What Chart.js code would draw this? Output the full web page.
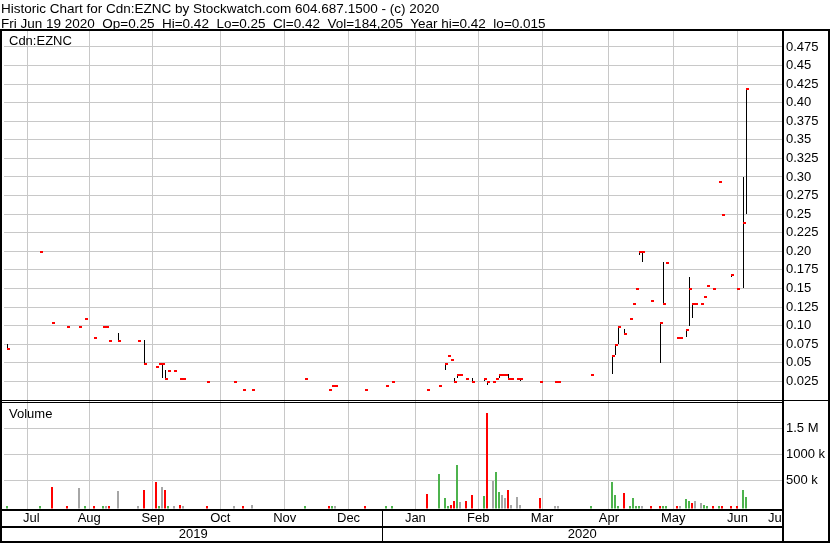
<!DOCTYPE html>
<html>
<head>
<meta charset="utf-8">
<title>Cdn:EZNC historic chart</title>
<script src="https://cdn.jsdelivr.net/npm/chart.js@4.4.1/dist/chart.umd.min.js"></script>
<style>
  html, body { margin: 0; padding: 0; background: #fff; }
  #wrap { position: relative; width: 830px; height: 543px; overflow: hidden; }
  #chart { position: absolute; left: 0; top: 0; }
  .txt { position: absolute; font-family: 'Liberation Sans', Arial, sans-serif; color: #000; white-space: pre; }
  #head { left: 1px; top: 1px; font-size: 13.5px; line-height: 15px; }
  #sym { left: 9px; top: 33px; font-size: 13px; line-height: 15px; }
  #volLabel { left: 9px; top: 406px; font-size: 13px; line-height: 15px; }
</style>
</head>
<body>
<div id="wrap">
  <canvas id="chart" width="830" height="543"></canvas>
  <div class="txt" id="head">Historic Chart for Cdn:EZNC by Stockwatch.com 604.687.1500 - (c) 2020
Fri Jun 19 2020  Op=0.25  Hi=0.42  Lo=0.25  Cl=0.42  Vol=184,205  Year hi=0.42  lo=0.015</div>
  <div class="txt" id="sym">Cdn:EZNC</div>
  <div class="txt" id="volLabel">Volume</div>
</div>
<script>
// day = weekday number counted from Mon 1 Jul 2019 (Fri 19 Jun 2020 = 254)
const days = [6, 17, 21, 26, 30, 32, 35, 38, 39, 40, 43, 50, 52, 56, 57, 58, 59, 60, 62, 64,
    65, 73, 82, 85, 88, 106, 114, 115, 116, 126, 133, 135, 147, 151, 153, 154, 155, 156, 157, 158,
    160, 162, 166, 167, 169, 170, 171, 172, 173, 174, 175, 177, 178, 185, 190, 191, 202, 209, 210, 211,
    213, 215, 216, 217, 218, 219, 222, 225, 226, 227, 231, 232, 234, 235, 236, 237, 239, 240, 241, 243,
    245, 246, 249, 251, 253, 254];
const highs = [0.075, 0.20, 0.105, 0.10, 0.10, 0.11, 0.085, 0.10, 0.10, 0.08, 0.09, 0.08, 0.08, 0.045, 0.05, 0.05, 0.04, 0.04, 0.04, 0.03,
    0.03, 0.025, 0.025, 0.015, 0.015, 0.03, 0.015, 0.02, 0.02, 0.015, 0.02, 0.025, 0.015, 0.02, 0.05, 0.06, 0.055, 0.03, 0.035, 0.035,
    0.03, 0.03, 0.03, 0.025, 0.025, 0.03, 0.035, 0.035, 0.035, 0.035, 0.03, 0.03, 0.03, 0.025, 0.025, 0.025, 0.035, 0.06, 0.075, 0.10,
    0.095, 0.11, 0.13, 0.15, 0.20, 0.20, 0.135, 0.105, 0.185, 0.185, 0.085, 0.085, 0.095, 0.165, 0.13, 0.13, 0.13, 0.14, 0.155, 0.15,
    0.295, 0.25, 0.17, 0.15, 0.30, 0.42];
const lows = [0.07, 0.20, 0.105, 0.10, 0.10, 0.11, 0.085, 0.10, 0.10, 0.08, 0.08, 0.08, 0.05, 0.045, 0.05, 0.03, 0.03, 0.04, 0.04, 0.03,
    0.03, 0.025, 0.025, 0.015, 0.015, 0.03, 0.015, 0.02, 0.02, 0.015, 0.02, 0.025, 0.015, 0.02, 0.04, 0.06, 0.055, 0.025, 0.03, 0.035,
    0.03, 0.025, 0.025, 0.02, 0.025, 0.03, 0.03, 0.035, 0.035, 0.03, 0.03, 0.03, 0.025, 0.025, 0.025, 0.025, 0.035, 0.035, 0.06, 0.075,
    0.09, 0.11, 0.13, 0.15, 0.195, 0.185, 0.135, 0.05, 0.13, 0.185, 0.085, 0.085, 0.085, 0.10, 0.11, 0.13, 0.13, 0.14, 0.155, 0.15,
    0.295, 0.25, 0.165, 0.15, 0.15, 0.25];
const closes = [0.07, 0.20, 0.105, 0.10, 0.10, 0.11, 0.085, 0.10, 0.10, 0.08, 0.08, 0.08, 0.05, 0.045, 0.05, 0.05, 0.03, 0.04, 0.04, 0.03,
    0.03, 0.025, 0.025, 0.015, 0.015, 0.03, 0.015, 0.02, 0.02, 0.015, 0.02, 0.025, 0.015, 0.02, 0.05, 0.06, 0.055, 0.025, 0.035, 0.035,
    0.03, 0.025, 0.03, 0.025, 0.025, 0.03, 0.035, 0.035, 0.035, 0.03, 0.03, 0.03, 0.03, 0.025, 0.025, 0.025, 0.035, 0.06, 0.075, 0.10,
    0.09, 0.11, 0.13, 0.15, 0.20, 0.20, 0.135, 0.105, 0.13, 0.185, 0.085, 0.085, 0.095, 0.15, 0.13, 0.13, 0.13, 0.14, 0.155, 0.15,
    0.295, 0.25, 0.17, 0.15, 0.24, 0.42];
const volumes = [10000, 5000, 371000, 5000, 358000, 12000, 5000, 5000, 5000, 5000, 300000, 5000, 319000, 473000, 5000, 377000, 319000, 5000, 10000, 31000,
    5000, 5000, 12000, 12000, 30000, 5000, 5000, 10000, 10000, 5000, 5000, 5000, 236000, 621000, 160000, 5000, 25000, 102000, 794000, 83000,
    102000, 217000, 198000, 1788000, 493000, 660000, 275000, 217000, 160000, 313000, 20000, 179000, 25000, 160000, 5000, 10000, 5000, 467000, 217000, 10000,
    256000, 10000, 160000, 10000, 5000, 10000, 5000, 10000, 5000, 5000, 10000, 5000, 140000, 102000, 64000, 102000, 64000, 25000, 5000, 5000,
    5000, 5000, 10000, 5000, 313000, 184205];

// month boundaries on the same day scale, and the labels of the spans between them
const monthStarts = [23.19, 43.8, 65.96, 89.07, 109.17, 131.94, 154.04, 174.14, 196.91, 219.02, 240.12, 262.22];
const monthLabels = ['Jul', 'Aug', 'Sep', 'Oct', 'Nov', 'Dec', 'Jan', 'Feb', 'Mar', 'Apr', 'May', 'Jun', 'Jul'];
const yearLabels = ['2019', '2020'];
const priceTickLabels = ['0.025', '0.05', '0.075', '0.10', '0.125', '0.15', '0.175', '0.20', '0.225', '0.25',
    '0.275', '0.30', '0.325', '0.35', '0.375', '0.40', '0.425', '0.45', '0.475'];
const volTicks = [500000, 1000000, 1500000];
const volTickLabels = ['500 k', '1000 k', '1.5 M'];

const X_MIN = 4.87, X_MAX = 266.09;
const P_MIN = -0.0015, P_MAX = 0.4992;
const V_MIN = -42300, V_MAX = 2025000;

const RED = '#ff0000', GREEN = '#4db34d', GRAY = '#a6a6a6', GRID = '#c8c8c8';
const FONT = "'Liberation Sans', Arial, sans-serif";

// volume colour follows the close versus the previous close
const volColors = closes.map((c, i) => {
    if (i === 0) return GREEN;
    return c > closes[i - 1] ? GREEN : (c < closes[i - 1] ? RED : GRAY);
});

// little red close tick, sitting to the right of the day's line
const closeTick = document.createElement('canvas');
closeTick.width = 8;
closeTick.height = 4;
const tc = closeTick.getContext('2d');
tc.fillStyle = RED;
tc.fillRect(4, 2, 3, 2);

const rangeIdx = days.map((d, i) => i).filter(i => highs[i] > lows[i]);

const mids = [];
const edges = [X_MIN, ...monthStarts, X_MAX];
for (let i = 0; i < edges.length - 1; i++) mids.push((edges[i] + edges[i + 1]) / 2);
const janPos = monthStarts[monthLabels.indexOf('Jan') - 1];
const yearMids = [(X_MIN + janPos) / 2, (janPos + X_MAX) / 2];

// keep the thin marks on whole pixels so they stay crisp
const snap = {
    id: 'snap',
    afterDatasetsUpdate(chart) {
        chart.data.datasets.forEach((ds, i) => {
            chart.getDatasetMeta(i).data.forEach(el => {
                el.x = Math.round(el.x) + (ds.barThickness === 1 ? 0.5 : 0);
                el.y = Math.round(el.y);
                if (el.base !== undefined) el.base = Math.round(el.base);
            });
        });
    }
};

const frame = {
    id: 'frame',
    afterDraw(chart) {
        const { ctx, chartArea: a, scales } = chart;
        const W = chart.width, H = chart.height;
        const bot = Math.round(a.bottom);
        ctx.save();
        ctx.fillStyle = '#fff';
        ctx.fillRect(a.right, bot, W - a.right, H - bot);
        ctx.fillStyle = '#000';
        ctx.fillRect(0, 29, W, 2);
        ctx.fillRect(0, 29, 2, H - 29);
        ctx.fillRect(W - 2, 29, 2, H - 29);
        ctx.fillRect(a.right, 29, 2, H - 29);
        const sep = Math.round(scales.yp.bottom) - 1;
        ctx.fillRect(0, sep, W, 1);
        ctx.fillRect(0, sep + 2, a.right, 1);
        ctx.fillRect(0, bot, a.right, 2);
        ctx.fillRect(0, Math.round(scales.xy.top), a.right, 2);
        ctx.fillRect(0, H - 2, W, 2);
        ctx.fillRect(Math.round(scales.x.getPixelForValue(janPos)), bot, 1, H - bot);
        ctx.restore();
    }
};

new Chart(document.getElementById('chart'), {
    type: 'bar',
    data: {
        datasets: [
            {
                type: 'scatter',
                data: days.map((d, i) => ({ x: d, y: closes[i] })),
                xAxisID: 'x', yAxisID: 'yp',
                pointStyle: closeTick, radius: 3, hoverRadius: 3,
                order: 0
            },
            {
                type: 'bar',
                data: rangeIdx.map(i => ({ x: days[i], y: [lows[i], highs[i]] })),
                xAxisID: 'x', yAxisID: 'yp',
                backgroundColor: '#000', borderWidth: 0, barThickness: 1,
                grouped: false, inflateAmount: 0,
                order: 1
            },
            {
                type: 'bar',
                data: days.map((d, i) => ({ x: d, y: volumes[i] })),
                xAxisID: 'x', yAxisID: 'yv',
                backgroundColor: volColors, borderWidth: 0, barThickness: 2,
                grouped: false, inflateAmount: 0, base: V_MIN,
                order: 2
            }
        ]
    },
    options: {
        responsive: false,
        animation: false,
        events: [],
        layout: { padding: { top: 29, left: 2, right: 0, bottom: 0 } },
        plugins: { legend: { display: false }, tooltip: { enabled: false } },
        scales: {
            yp: {
                type: 'linear', position: 'right', stack: 'panels', stackWeight: 372,
                min: P_MIN, max: P_MAX,
                afterBuildTicks: s => { s.ticks = priceTickLabels.map(t => ({ value: parseFloat(t) })); },
                afterFit: s => { s.width = 48; },
                ticks: {
                    autoSkip: false, padding: 4, color: '#000',
                    font: { family: FONT, size: 13 },
                    callback: (v, i) => priceTickLabels[i]
                },
                grid: { color: GRID, lineWidth: 1, drawTicks: false },
                border: { display: false }
            },
            yv: {
                type: 'linear', position: 'right', stack: 'panels', stackWeight: 107.5,
                min: V_MIN, max: V_MAX,
                afterBuildTicks: s => { s.ticks = volTicks.map(v => ({ value: v })); },
                afterFit: s => { s.width = 48; },
                ticks: {
                    autoSkip: false, padding: 4, color: '#000',
                    font: { family: FONT, size: 13 },
                    callback: (v, i) => volTickLabels[i]
                },
                grid: { color: GRID, lineWidth: 1, drawTicks: false },
                border: { display: false }
            },
            x: {
                type: 'linear', position: 'bottom', min: X_MIN, max: X_MAX, offset: false,
                afterBuildTicks: s => { s.ticks = monthStarts.map(v => ({ value: v })); },
                afterFit: s => { s.height = 0; },
                ticks: { display: false },
                grid: { color: GRID, lineWidth: 1, drawTicks: false },
                border: { display: false }
            },
            xm: {
                type: 'linear', position: 'bottom', min: X_MIN, max: X_MAX, offset: false,
                afterBuildTicks: s => { s.ticks = mids.map(v => ({ value: v })); },
                afterFit: s => { s.height = 17.5; },
                ticks: {
                    autoSkip: false, maxRotation: 0, minRotation: 0, padding: 2, color: '#000',
                    font: { family: FONT, size: 13 },
                    callback: (v, i) => monthLabels[i]
                },
                grid: { display: false, drawTicks: false },
                border: { display: false }
            },
            xy: {
                type: 'linear', position: 'bottom', min: X_MIN, max: X_MAX, offset: false,
                afterBuildTicks: s => { s.ticks = yearMids.map(v => ({ value: v })); },
                afterFit: s => { s.height = 17; },
                ticks: {
                    autoSkip: false, maxRotation: 0, minRotation: 0, padding: 1, color: '#000',
                    font: { family: FONT, size: 13 },
                    callback: (v, i) => yearLabels[i]
                },
                grid: { display: false, drawTicks: false },
                border: { display: false }
            }
        }
    },
    plugins: [snap, frame]
});
</script>
</body>
</html>
